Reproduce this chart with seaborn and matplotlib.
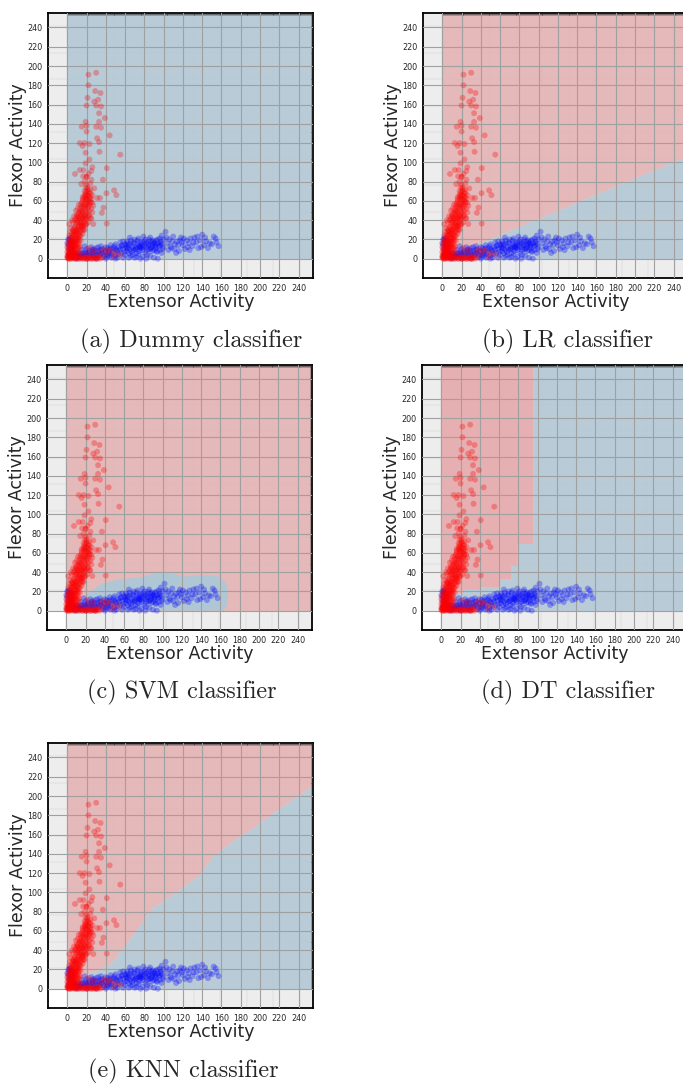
import numpy as np
import pandas as pd
import seaborn as sns
import matplotlib.pyplot as plt

# --------------------samples (same in every panel)--------------------
flexor_x = [30, 22, 22, 29, 34.5, 21, 32, 28, 20, 30, 35, 33, 39, 19, 15, 20, 33, 30, 35, 20,
            44, 31, 13, 18, 23, 16, 33, 19, 33.5, 55, 23, 19, 41, 25, 8, 13, 16.5, 20, 25, 37,
            14.5, 20, 31, 34, 48.6, 40.7, 51, 41, 37.6, 35.9,
            1, 2, 3, 1, 2, 4, 3, 5, 1, 4, 6, 2, 5, 7, 8, 10, 12, 14, 16, 18, 20, 22, 25, 28, 30,
            6, 7, 0, 0,
            3, 5, 7, 4, 6, 8, 9, 5, 10, 11, 7, 3, 12, 9, 2,
            8, 10, 12, 9, 11, 14, 13, 15, 10, 16, 7, 17, 12, 18, 20, 14, 6,
            15, 17, 19, 16, 20, 21, 22, 18, 13, 23, 20, 24, 21, 19, 25, 17, 11, 22, 26, 14,
            18, 20, 22, 17, 24, 19, 26, 28,
            4, 6, 8, 10, 12, 13, 15, 16, 18, 19, 21, 23, 20, 22, 9, 11, 14, 7, 5, 3,
            17, 19, 23, 24, 18, 16, 12, 10, 6, 8,
            15, 20, 25, 30, 35, 40, 45, 50, 55, 28, 38, 22, 33, 48, 42,
            0, 1, 2, 3, 4, 5, 6, 7, 8, 9, 10, 11, 3, 4, 6, 8, 9, 10, 11, 12,
            0, 1, 2, 4, 5, 6, 7, 8, 9, 10, 11, 12, 13, 14, 6, 3, 1, 8, 10, 13,
            4, 5, 6, 7, 8, 9, 10, 11, 12, 13, 14, 15, 16, 17, 18, 19, 6, 8, 5, 12,
            8, 9, 10, 11, 12, 13, 14, 15, 16, 17, 18, 19, 20, 21, 22, 23, 24, 13, 15, 11,
            14, 15, 16, 17, 18, 19, 20, 21, 22, 23, 24, 25, 26, 27, 20, 18, 22, 24, 21, 19,
            1, 3, 5, 7, 9, 11, 13, 15, 17, 19, 21, 23, 24, 26, 27, 29, 31, 32, 34, 36,
            2, 3, 4, 2, 5, 7, 9, 12, 16, 18, 21, 24, 26, 25, 27, 16, 14]
flexor_y = [193, 191, 180, 174, 172, 167, 165, 163, 159, 159, 158, 151, 146, 142, 137, 138, 142, 137, 136, 132,
            128, 125, 120, 120, 119, 117, 121, 110, 111, 108, 103, 99, 94, 91, 88, 92, 85.5, 85, 82, 82,
            77.5, 77, 63, 63, 71, 68, 66, 36.5, 53, 47.6,
            1, 3, 2, 5, 7, 4, 8, 6, 9, 10, 3, 0, 1, 2, 0, 1, 0, 1, 0, 1, 0, 1, 0, 1, 0,
            8, 5, 3, 7,
            12, 14, 12, 17, 19, 16, 21, 22, 18, 24, 25, 20, 15, 13, 15,
            28, 30, 33, 36, 40, 38, 29, 43, 44, 35, 32, 30, 26, 40, 36, 45, 38,
            48, 52, 55, 60, 62, 66, 70, 58, 50, 56, 48, 64, 74, 68, 52, 45, 52, 60, 58, 56,
            80, 85, 88, 92, 78, 74, 95, 73,
            6, 10, 14, 22, 20, 36, 32, 42, 46, 50, 56, 62, 70, 44, 26, 34, 24, 18, 11, 15,
            38, 42, 50, 68, 64, 54, 42, 38, 28, 22,
            5, 4, 6, 3, 7, 5, 8, 6, 4, 9, 10, 11, 2, 2, 9,
            1, 3, 5, 6, 8, 9, 7, 9, 6, 4, 6, 3, 0, 2, 1, 3, 8, 10, 8, 5,
            12, 16, 18, 13, 16, 14, 16, 19, 17, 14, 12, 18, 13, 19, 16, 18, 11, 11, 20, 10,
            22, 26, 24, 28, 25, 30, 27, 29, 31, 24, 28, 34, 26, 33, 30, 35, 30, 33, 20, 22,
            40, 42, 46, 38, 47, 42, 40, 37, 48, 43, 36, 44, 41, 47, 38, 45, 42, 48, 50, 44,
            53, 58, 64, 56, 70, 61, 57, 52, 65, 68, 59, 62, 66, 55, 66, 53, 54, 72, 61, 64,
            0, 1, 0, 1, 0, 1, 0, 1, 0, 1, 0, 1, 0, 1, 0, 1, 0, 1, 0, 1,
            24, 28, 32, 36, 40, 44, 50, 56, 62, 66, 72, 58, 48, 42, 36, 30, 34]

extensor_x = [1, 2, 3, 1, 4, 2, 5, 3, 6, 0,
              8, 10, 12, 14, 16, 18, 20, 22, 24, 26, 28, 30, 32, 34, 36, 38, 40, 42, 44, 46,
              48, 50, 52, 54, 56, 58, 60, 20, 25, 30, 35, 40, 45, 50, 55, 58, 10, 20, 30, 40,
              50, 15, 27, 18,
              62, 64, 66, 68, 70, 72, 74, 76, 78, 80, 82, 84, 86, 88, 90, 92, 94, 96, 98, 100,
              62, 66, 70, 74, 78, 82, 86, 90, 94, 65, 72, 76, 84, 88, 92, 96, 69, 81, 87, 79,
              85, 73, 91, 63, 67, 71, 75, 83, 89, 93, 97, 61, 77,
              102, 104, 106, 108, 110, 112, 114, 116, 118, 120, 122, 124, 126, 128, 130, 132,
              134, 136, 138, 140, 142, 144, 146, 150, 154, 157, 105, 113, 125, 100, 109, 119, 98,
              5, 7, 9, 11, 13, 15, 17, 19, 21, 23, 25, 27, 29, 31, 33, 35, 37, 39, 41, 43,
              45, 47, 49, 51, 53, 55, 57, 59, 61, 63, 65, 67, 69, 71, 73, 75, 77, 79, 81, 83,
              85, 87, 89, 91, 93, 95, 97, 99, 64, 68, 72, 76, 80, 84, 88, 92, 96, 70, 74, 78,
              60, 62, 66, 82, 86, 90, 94, 98, 50, 56, 44, 36, 32, 26, 42, 46, 52, 58, 64, 76,
              2, 4, 1, 3, 5,
              103, 107, 111, 115, 117, 121, 127, 131, 135, 139, 143, 148, 152, 155]
extensor_y = [2, 5, 10, 14, 18, 20, 8, 4, 12, 16,
              3, 5, 2, 4, 6, 3, 5, 8, 4, 7, 3, 5, 8, 4, 6, 2, 7, 4, 9, 5,
              11, 3, 8, 12, 6, 10, 4, 10, 12, 11, 13, 12, 14, 15, 17, 18, 0, 0, 0, 0,
              0, 9, 10, 13,
              8, 14, 19, 11, 16, 6, 21, 13, 9, 18, 12, 15, 22, 8, 17, 11, 20, 14, 6, 12,
              18, 3, 1, 5, 2, 0, 3, 1, 0, 22, 12, 17, 10, 14, 19, 9, 9, 6, 18, 23,
              20, 15, 13, 11, 7, 10, 13, 4, 16, 7, 16, 14, 11,
              28, 16, 20, 11, 23, 15, 18, 8, 22, 14, 10, 19, 16, 21, 13, 22,
              17, 11, 19, 25, 14, 18, 11, 15, 21, 13, 9, 6, 12, 20, 18, 17, 24,
              2, 4, 1, 6, 3, 2, 5, 7, 3, 6, 2, 5, 8, 3, 6, 9, 4, 8, 2, 6,
              11, 7, 13, 9, 5, 10, 14, 7, 12, 16, 9, 13, 17, 10, 19, 8, 15, 12, 20, 9,
              14, 11, 19, 16, 8, 13, 18, 10, 6, 4, 2, 11, 14, 17, 12, 14, 21, 20, 12, 17,
              15, 11, 16, 16, 10, 9, 16, 15, 10, 13, 3, 10, 12, 9, 11, 1, 1, 1, 1, 0,
              10, 14, 20, 22, 18,
              22, 13, 10, 14, 19, 21, 9, 17, 23, 12, 22, 16, 23, 17]

# --------------------decision regions--------------------
grid_max = 255
full_x = [0, 255]
lr_x = [0, 255]
lr_y = [0, 107]
svm_x = [12, 14.5, 21, 35, 52, 77, 97, 111, 125, 142, 159.5, 166, 168, 167, 163]
svm_y = [0, 6, 16.5, 27, 32, 34.5, 40, 38, 35.5, 37, 35.5, 28.6, 15, 6, 0]
dt_x = [0, 24, 40, 60, 72, 79, 95]
dt_y = [18, 21, 24.5, 33, 46, 69, 69]
knn_x = [0, 5, 12, 22.5, 33, 43, 50, 60.6, 71, 81, 88, 99, 109, 123, 137, 150.6, 171, 192, 213, 230, 255]
knn_y = [0, 4, 9.7, 16.6, 20, 24.5, 32, 46, 60, 74, 84, 91, 97.6, 108, 118, 137, 153, 166.5, 182, 194, 211]

captions = ['(a) Dummy classifier', '(b) LR classifier', '(c) SVM classifier',
            '(d) DT classifier', '(e) KNN classifier']

red_region = '#e6afb1'
blue_region = '#afc7d5'
region_alpha = 0.82

samples = pd.concat([
    pd.DataFrame({'extensor': extensor_x, 'flexor': extensor_y, 'cls': 'Extensor'}),
    pd.DataFrame({'extensor': flexor_x, 'flexor': flexor_y, 'cls': 'Flexor'}),
])

sns.set_style('white')

W, H = 683, 1086
fig = plt.figure(figsize=(W / 100, H / 100), dpi=100)

# axes positions in pixels: (left, top)
panel_pos = [(48, 13), (423, 13), (47, 365), (422, 365), (48, 743)]
caption_pos = [(191, 341), (567, 341), (182, 692), (568, 692), (183, 1071)]
size = 265
minor_steps = np.arange(0, 256, 1)


def draw_regions(ax, name):
    base = dict(lw=0, zorder=1, alpha=region_alpha)
    top = dict(lw=0, zorder=1.1, alpha=region_alpha)
    if name == 'dummy':
        ax.fill_between(full_x, 0, grid_max, color=blue_region, **base)
    elif name == 'lr':
        ax.fill_between(lr_x, lr_y, grid_max, color=red_region, **base)
        ax.fill_between(lr_x, 0, lr_y, color=blue_region, **top)
    elif name == 'svm':
        ax.fill_between(full_x, 0, grid_max, color=red_region, **base)
        ax.fill(svm_x, svm_y, color=blue_region, lw=0, zorder=1.1, alpha=1)
    elif name == 'dt':
        ax.fill_between(full_x, 0, grid_max, color=blue_region, **base)
        ax.fill_between(dt_x, dt_y, grid_max, step='post', color=red_region,
                        lw=0, zorder=1.1, alpha=1)
    elif name == 'knn':
        ax.fill_between(knn_x, knn_y, grid_max, color=red_region, **base)
        ax.fill_between(knn_x, 0, knn_y, color=blue_region, **top)


for (left, top), name, cap, (cx, cy) in zip(panel_pos, ['dummy', 'lr', 'svm', 'dt', 'knn'],
                                          captions, caption_pos):
    ax = fig.add_axes([left / W, 1 - (top + size) / H, size / W, size / H])

    # fine mesh lines under the decision regions
    ax.hlines(minor_steps, -20, 255, colors='#cfcfcf', lw=0.3, zorder=0.5)
    ax.vlines(minor_steps, -20, 255, colors='#cfcfcf', lw=0.3, zorder=0.5)
    draw_regions(ax, name)

    sns.scatterplot(data=samples, x='extensor', y='flexor', hue='cls',
                    palette={'Extensor': 'blue', 'Flexor': 'red'},
                    s=18, alpha=0.3, linewidth=0, legend=False, ax=ax, zorder=3)

    ax.set_xlim(-20, 255)
    ax.set_ylim(-20, 255)
    ax.set_xticks(np.arange(0, 241, 20))
    ax.set_yticks(np.arange(0, 241, 20))
    ax.set_xticks(minor_steps, minor=True)
    ax.set_yticks(minor_steps, minor=True)
    ax.set_axisbelow(False)
    ax.grid(which='major', color='#a0a0a0', lw=0.8)
    ax.tick_params(which='major', labelsize=5.8, length=2.5, width=0.8, pad=1.5)
    ax.tick_params(which='minor', length=1.5, width=0.4, direction='in',
                   top=True, right=True, bottom=False, left=False)
    for sp in ax.spines.values():
        sp.set_color('black')
        sp.set_linewidth(1.3)

    ax.set_xlabel('Extensor Activity', fontsize=12.5, labelpad=0)
    ax.set_ylabel('Flexor Activity', fontsize=12.5, labelpad=0)

    fig.text(cx / W, 1 - cy / H, cap, family='cmr10', fontsize=17.5,
             ha='center', va='center')

fig.savefig('out.png', dpi=100)
plt.close(fig)
